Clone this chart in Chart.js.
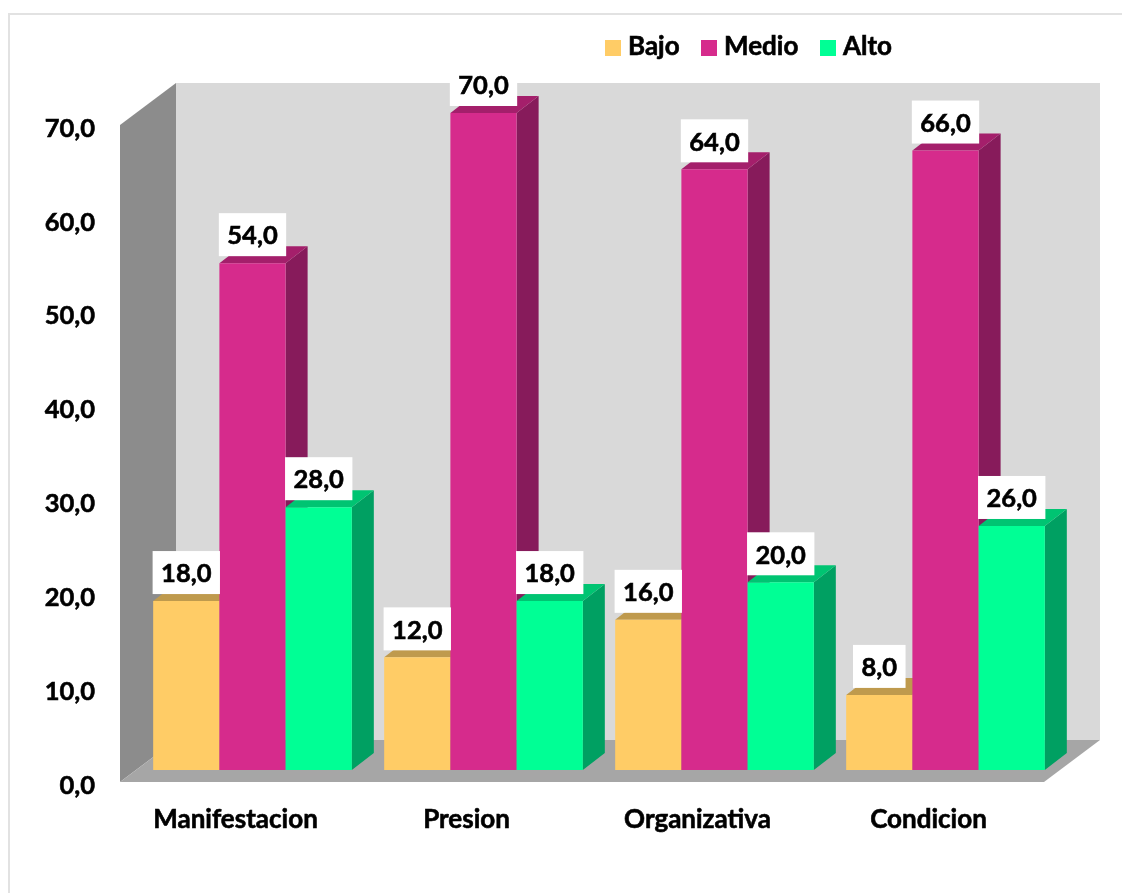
<!DOCTYPE html>
<html>
<head>
<meta charset="utf-8">
<script src="https://cdn.jsdelivr.net/npm/chart.js@4"></script>
<style>
  html, body { margin: 0; padding: 0; background: #fff; overflow: hidden; }
  #frame { position: absolute; left: 8px; top: 13px; right: 0; bottom: 0;
           border-left: 2px solid #e2e2e2; border-top: 2px solid #e2e2e2; }
  canvas { position: absolute; left: 0; top: 0; }
</style>
</head>
<body>
<div id="frame"></div>
<canvas id="chart" width="1122" height="893"></canvas>
<script>
var categories = ['Manifestacion', 'Presion', 'Organizativa', 'Condicion'];
var bajo = [18, 12, 16, 8];
var medio = [54, 70, 64, 66];
var alto = [28, 18, 20, 26];

var NUM_FONT = 'bold 25.5px Lato';
var TEXT_FONT = 'bold 26px Lato';
var STROKE = 0.6;
var faces = [
  { top: '#bf9a4d', side: '#bf9a4d' },
  { top: '#a41f6b', side: '#871b5b' },
  { top: '#00c472', side: '#00a062' }
];

function poly(ctx, color, pts) {
  ctx.fillStyle = color;
  ctx.beginPath();
  ctx.moveTo(pts[0][0], pts[0][1]);
  for (var i = 1; i < pts.length; i++) ctx.lineTo(pts[i][0], pts[i][1]);
  ctx.closePath();
  ctx.fill();
}

function heavyText(ctx, txt, x, y) {
  ctx.fillStyle = '#000';
  ctx.strokeStyle = '#000';
  ctx.lineWidth = STROKE;
  ctx.strokeText(txt, x, y);
  ctx.fillText(txt, x, y);
}

// fake 3D box: walls and floor behind the plot, then bars drawn back to front
var box3d = {
  id: 'box3d',
  beforeDraw: function(chart) {
    // tick labels sit a bit under their grid position in the reference
    chart.scales.y.getLabelItems().forEach(function(item) { item.textOffset += 3.5; });
  },
  beforeDatasetsDraw: function(chart) {
    var ctx = chart.ctx, a = chart.chartArea;
    var dx = 56, dy = 42;
    poly(ctx, '#d9d9d9', [[a.left + dx, a.top - dy], [a.right + dx, a.top - dy], [a.right + dx, a.bottom - dy], [a.left + dx, a.bottom - dy]]);
    poly(ctx, '#8c8c8c', [[a.left, a.top], [a.left + dx, a.top - dy], [a.left + dx, a.bottom - dy], [a.left, a.bottom]]);
    poly(ctx, '#a6a6a6', [[a.left, a.bottom], [a.right, a.bottom], [a.right + dx, a.bottom - dy], [a.left + dx, a.bottom - dy]]);

    chart.data.datasets.forEach(function(ds, i) {
      var meta = chart.getDatasetMeta(i);
      ctx.save();
      ctx.translate(17, -12);
      meta.data.forEach(function(bar) {
        var l = bar.x - bar.width / 2, r = bar.x + bar.width / 2;
        poly(ctx, faces[i].side, [[r, bar.y], [r + 22, bar.y - 17], [r + 22, bar.base - 17], [r, bar.base]]);
        poly(ctx, faces[i].top, [[l, bar.y], [l + 22, bar.y - 17], [r + 22, bar.y - 17], [r, bar.y]]);
      });
      meta.controller.draw();
      ctx.restore();
    });
    return false;
  },
  afterDraw: function(chart) {
    var ctx = chart.ctx;
    ctx.save();
    ctx.textBaseline = 'middle';
    // value labels on white boxes
    ctx.font = NUM_FONT;
    chart.data.datasets.forEach(function(ds, i) {
      chart.getDatasetMeta(i).data.forEach(function(bar, j) {
        var txt = ds.data[j].toFixed(1).replace('.', ',');
        var w = ctx.measureText(txt).width + 17;
        var cx = bar.x + 17, bottom = bar.y - 12 - 7;
        ctx.fillStyle = '#fff';
        ctx.fillRect(cx - w / 2, bottom - 43, w, 43);
        ctx.textAlign = 'center';
        heavyText(ctx, txt, cx, bottom - 20);
      });
    });
    // legend
    ctx.font = TEXT_FONT;
    var spots = [[605, 628], [701, 724], [820, 843]];
    chart.data.datasets.forEach(function(ds, i) {
      ctx.fillStyle = ds.backgroundColor;
      ctx.fillRect(spots[i][0], 40, 16, 16);
      ctx.textAlign = 'left';
      heavyText(ctx, ds.label, spots[i][1], 47);
    });
    ctx.restore();
  }
};

new Chart(document.getElementById('chart'), {
  type: 'bar',
  data: {
    labels: categories,
    datasets: [
      { label: 'Bajo', data: bajo, backgroundColor: '#ffcc66' },
      { label: 'Medio', data: medio, backgroundColor: '#d62b8c' },
      { label: 'Alto', data: alto, backgroundColor: '#00ff95' }
    ]
  },
  options: {
    responsive: false,
    animation: false,
    layout: { padding: { top: 125, right: 78, left: 0, bottom: 0 } },
    datasets: { bar: { categoryPercentage: 0.86, barPercentage: 1 } },
    plugins: { legend: { display: false }, tooltip: { enabled: false } },
    scales: {
      x: {
        afterFit: function(s) { s.height = 111; },
        grid: { display: false },
        border: { display: false },
        ticks: {
          color: '#000',
          textStrokeColor: '#000',
          textStrokeWidth: STROKE,
          font: { family: 'Lato', size: 26, weight: 'bold' },
          padding: 14,
          maxRotation: 0,
          autoSkip: false
        }
      },
      y: {
        min: 0,
        max: 70,
        afterFit: function(s) { s.width = 120; },
        grid: { display: false },
        border: { display: false },
        ticks: {
          stepSize: 10,
          color: '#000',
          textStrokeColor: '#000',
          textStrokeWidth: STROKE,
          padding: 17,
          font: { family: 'Lato', size: 25.5, weight: 'bold' },
          callback: function(v) { return v.toFixed(1).replace('.', ','); }
        }
      }
    }
  },
  plugins: [box3d]
});
</script>
</body>
</html>
